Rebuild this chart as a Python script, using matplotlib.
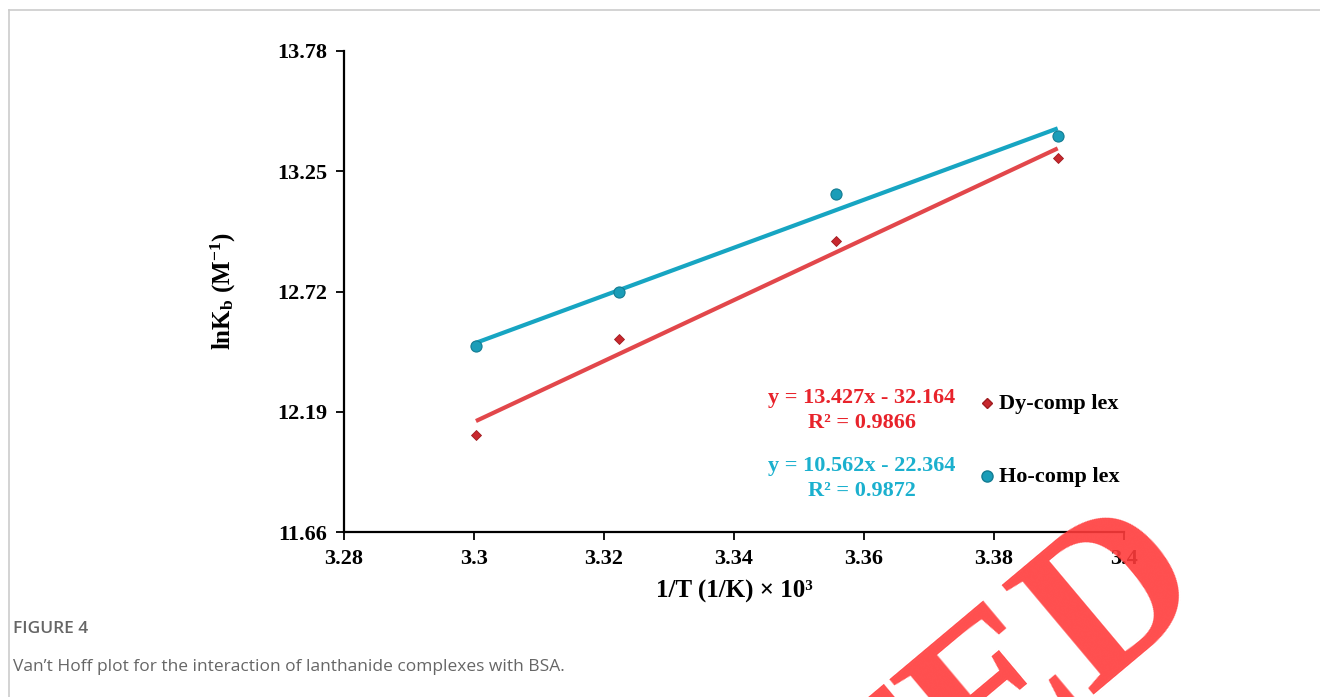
import numpy as np
import matplotlib.pyplot as plt
from matplotlib.lines import Line2D

# data
invT = [3.3003, 3.3223, 3.3557, 3.3898]
dyLnK = [12.089, 12.509, 12.942, 13.307]
hoLnK = [12.480, 12.716, 13.149, 13.404]

# trendlines as printed on the chart
dyFit = [13.427, -32.164]
hoFit = [10.562, -22.364]
dyR2 = 0.9866
hoR2 = 0.9872

xTicks = [3.28, 3.3, 3.32, 3.34, 3.36, 3.38, 3.4]
xTickLabels = ['3.28', '3.3', '3.32', '3.34', '3.36', '3.38', '3.4']
yTicks = [11.66, 12.19, 12.72, 13.25, 13.78]
yTickLabels = ['11.66', '12.19', '12.72', '13.25', '13.78']

red = '#E2474B'
redMark = '#C8282E'
cyan = '#17A5C2'
cyanMark = '#1A9DB8'
redText = '#E8232B'
cyanText = '#1BB0CE'
serif = 'Liberation Serif'

plt.rcParams['mathtext.fontset'] = 'custom'
plt.rcParams['mathtext.rm'] = serif
plt.rcParams['mathtext.it'] = serif + ':italic'
plt.rcParams['mathtext.bf'] = serif + ':bold'

fig = plt.figure(figsize=(13.2, 6.97), dpi=100)
ax = fig.add_axes([344 / 1320, 1 - 532 / 697, 780 / 1320, 481 / 697])

x = np.array([invT[0], invT[-1]])
ax.plot(x, dyFit[0] * x + dyFit[1], color=red, lw=3, solid_capstyle='butt', zorder=2)
ax.plot(x, hoFit[0] * x + hoFit[1], color=cyan, lw=3, solid_capstyle='butt', zorder=2)
ax.plot(invT, dyLnK, 'D', color=redMark, ms=5, mec='#A01C20', mew=0.6, zorder=3)
ax.plot(invT, hoLnK, 'o', color=cyanMark, ms=8, mec='#137C92', mew=0.8, zorder=3)

ax.set_xlim(3.28, 3.4)
ax.set_ylim(11.66, 13.78)
ax.set_xticks(xTicks)
ax.set_xticklabels(xTickLabels)
ax.set_yticks(yTicks)
ax.set_yticklabels(yTickLabels)
ax.spines['top'].set_visible(False)
ax.spines['right'].set_visible(False)
for s in ['left', 'bottom']:
    ax.spines[s].set_linewidth(1.6)
ax.tick_params(direction='out', length=6, width=1.3, labelsize=16, pad=6)
for lab in ax.get_xticklabels() + ax.get_yticklabels():
    lab.set_family(serif)
    lab.set_fontweight('bold')

ax.set_xlabel('1/T (1/K) × 10³', family=serif, fontweight='bold', fontsize=18, labelpad=8)
ax.set_ylabel(r'lnK$_{\mathbf{b}}$ (M$^{\mathbf{-1}}$)', family=serif, fontweight='bold',
              fontsize=18, labelpad=28)

# equations + legend
tk = dict(family=serif, fontweight='bold', fontsize=16, ha='center', va='center')
fig.text(862 / 1320, 1 - 398 / 697, f'y = {dyFit[0]}x - {abs(dyFit[1])}', color=redText, **tk)
fig.text(862 / 1320, 1 - 423 / 697, f'R² = {dyR2}', color=redText, **tk)
fig.text(862 / 1320, 1 - 466 / 697, f'y = {hoFit[0]}x - {abs(hoFit[1])}', color=cyanText, **tk)
fig.text(862 / 1320, 1 - 491 / 697, f'R² = {hoR2}', color=cyanText, **tk)

fig.add_artist(Line2D([987 / 1320], [1 - 403 / 697], marker='D', color=redMark, ms=5,
                      mec='#A01C20', transform=fig.transFigure))
fig.add_artist(Line2D([987 / 1320], [1 - 476 / 697], marker='o', color=cyanMark, ms=8,
                      mec='#137C92', transform=fig.transFigure))
lk = dict(family=serif, fontweight='bold', fontsize=16, ha='left', va='center', color='black')
fig.text(999 / 1320, 1 - 404 / 697, 'Dy-comp lex', **lk)
fig.text(999 / 1320, 1 - 477 / 697, 'Ho-comp lex', **lk)

# page frame and caption
fig.add_artist(Line2D([9 / 1320, 1], [1 - 10 / 697, 1 - 10 / 697], color='#cccccc', lw=1.2,
                      transform=fig.transFigure))
fig.add_artist(Line2D([9 / 1320, 9 / 1320], [0, 1 - 10 / 697], color='#cccccc', lw=1.2,
                      transform=fig.transFigure))
fig.text(13 / 1320, 1 - 629 / 697, 'FIGURE 4', family='Open Sans', fontweight='semibold',
         fontsize=12.5, color='#666666', va='center')
fig.text(13 / 1320, 1 - 667 / 697, 'Van’t Hoff plot for the interaction of lanthanide complexes with BSA.',
         family='Open Sans', fontsize=12.5, color='#666666', va='center')

# stamp overlay
fig.text(1212 / 1320, 1 - 592 / 697, 'RETRACTED', family=serif, fontweight='bold',
         fontsize=158, color='#FF3B3B', alpha=0.9, rotation=40, rotation_mode='anchor',
         ha='right', va='baseline', zorder=10)

fig.savefig('out.png', dpi=100)
